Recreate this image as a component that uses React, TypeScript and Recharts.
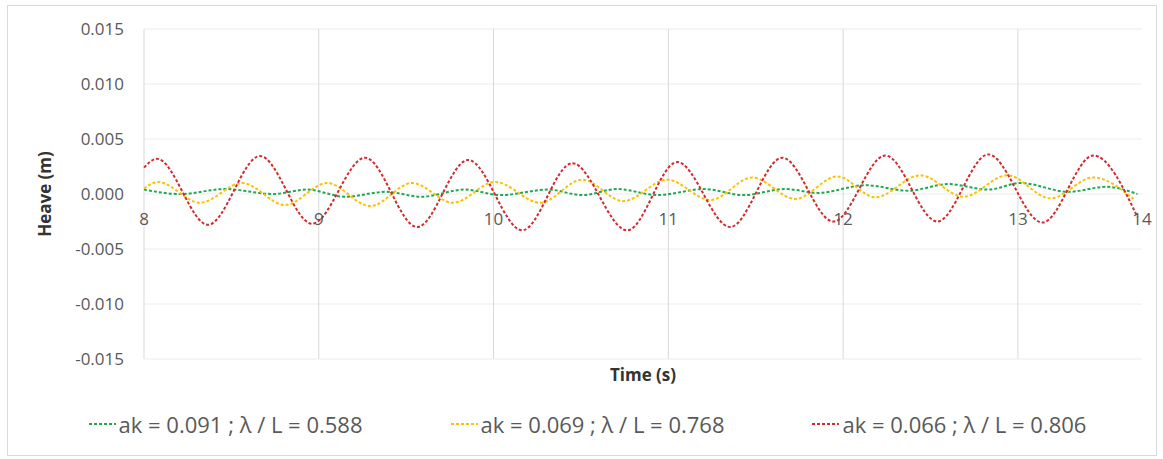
import React from 'react';
import { LineChart, Line, XAxis, YAxis, CartesianGrid, ReferenceLine, ReferenceDot, Legend } from 'recharts';

const FONT = '"Open Sans", "Liberation Sans", sans-serif';

const greenTime = [8.0, 8.206, 8.464, 8.738, 8.933, 9.151, 9.385, 9.586, 9.837, 10.038, 10.313, 10.507, 10.708, 10.937, 11.206, 11.429, 11.669, 11.858, 12.127, 12.373, 12.602, 12.831, 13.014, 13.289, 13.507, 13.684];
const greenHeave = [0.0004, 0.0, 0.00045, 0.0, 0.0004, -0.00025, 0.0002, -0.00025, 0.0004, -0.0001, 0.0004, -0.0001, 0.00045, -0.0001, 0.00045, -0.0001, 0.00045, 0.0001, 0.0008, 0.0003, 0.0009, 0.0004, 0.001, 0.0002, 0.00065, 0.0];

const yellowTime = [8.0, 8.08, 8.321, 8.561, 8.807, 9.048, 9.294, 9.534, 9.769, 10.009, 10.267, 10.507, 10.742, 10.994, 11.24, 11.48, 11.726, 11.967, 12.184, 12.442, 12.688, 12.94, 13.186, 13.432, 13.661];
const yellowHeave = [0.0005, 0.0011, -0.0008, 0.001, -0.001, 0.001, -0.0011, 0.001, -0.0008, 0.0011, -0.0008, 0.0013, -0.00065, 0.0013, -0.00055, 0.0015, -0.00045, 0.0016, -0.0003, 0.0017, -0.00025, 0.0017, -0.0004, 0.0015, -0.00045];

const redTime = [8.0, 8.074, 8.366, 8.664, 8.962, 9.265, 9.563, 9.855, 10.164, 10.45, 10.765, 11.051, 11.354, 11.652, 11.944, 12.242, 12.539, 12.831, 13.14, 13.432, 13.684];
const redHeave = [0.0024, 0.0032, -0.0028, 0.00345, -0.0027, 0.0033, -0.003, 0.0031, -0.0033, 0.0028, -0.0033, 0.0029, -0.003, 0.0033, -0.0025, 0.0035, -0.0025, 0.0036, -0.0026, 0.0035, -0.0021];

const seriesNames = ['ak = 0.091 ; λ / L = 0.588', 'ak = 0.069 ; λ / L = 0.768', 'ak = 0.066 ; λ / L = 0.806'];
const seriesColors = ['#1FA84F', '#FFC000', '#D42A2A'];

const yTicks = [-0.015, -0.01, -0.005, 0, 0.005, 0.01, 0.015];
const xTicks = [8, 9, 10, 11, 12, 13];
const xLabels = ['8', '9', '10', '11', '12', '13', '14'];
const xEnd = 13.71;

const toPoints = (time: number[], heave: number[]) => time.map((t, i) => ({ t, h: heave[i] }));

const series = [
  toPoints(greenTime, greenHeave),
  toPoints(yellowTime, yellowHeave),
  toPoints(redTime, redHeave),
];

/* legend drawn like the Excel one: dotted sample + label */
const LegendContent = () => (
  <div style={{ display: 'flex', justifyContent: 'center', alignItems: 'center', gap: 88, height: 60, paddingLeft: 12, paddingTop: 6, boxSizing: 'border-box', fontFamily: FONT, fontSize: 22, color: '#595959' }}>
    {seriesNames.map((n, i) => (
      <div key={n} style={{ display: 'flex', alignItems: 'center' }}>
        <svg width={27} height={4}>
          <line x1={0} y1={2} x2={27} y2={2} stroke={seriesColors[i]} strokeWidth={2} strokeDasharray="3 2" />
        </svg>
        <span style={{ marginLeft: 3 }}>{n}</span>
      </div>
    ))}
  </div>
);

const App = () => {
  return (
    <div style={{ position: 'absolute', left: 0, top: 0, width: 1163, height: 459, background: '#fff' }}>
      <div style={{ position: 'absolute', left: 7, top: 5, width: 1150, height: 451, border: '1px solid #d9d9d9', boxSizing: 'border-box' }} />
      <LineChart width={1163} height={459} margin={{ top: 29, right: 21, left: 14, bottom: 8 }}>
        <CartesianGrid vertical={false} stroke="#ececec" />
        {xTicks.map((t) => (
          <ReferenceLine key={t} x={t} stroke="#d9d9d9" />
        ))}
        <XAxis
          dataKey="t"
          type="number"
          domain={[8, xEnd]}
          ticks={xTicks}
          tick={false}
          axisLine={false}
          tickLine={false}
          height={32}
          label={{ value: 'Time (s)', position: 'center', fill: '#333', fontSize: 17, fontWeight: 'bold', fontFamily: FONT }}
        />
        <YAxis
          type="number"
          domain={[-0.015, 0.015]}
          ticks={yTicks}
          tickFormatter={(v: number) => v.toFixed(3)}
          width={130}
          axisLine={false}
          tickLine={false}
          tickSize={8}
          tickMargin={12}
          tick={{ fill: '#595959', fontSize: 17, fontFamily: FONT }}
          label={{ value: 'Heave (m)', angle: -90, position: 'center', dx: -34, fill: '#333', fontSize: 17, fontWeight: 'bold', fontFamily: FONT }}
        />
        {series.map((d, i) => (
          <Line
            key={seriesNames[i]}
            data={d}
            dataKey="h"
            name={seriesNames[i]}
            type="monotone"
            stroke={seriesColors[i]}
            strokeWidth={2}
            strokeDasharray="3 2"
            dot={false}
            activeDot={false}
            isAnimationActive={false}
          />
        ))}
        {xLabels.map((lab, i) => (
          <ReferenceDot
            key={lab}
            x={i < xTicks.length ? xTicks[i] : xEnd}
            y={0}
            r={0}
            fill="none"
            stroke="none"
            label={{ value: lab, position: 'bottom', offset: 19, fill: '#595959', fontSize: 17, fontFamily: FONT }}
          />
        ))}
        <Legend verticalAlign="bottom" height={60} wrapperStyle={{ left: 0, width: 1163 }} content={<LegendContent />} />
      </LineChart>
    </div>
  );
};

export default App;
